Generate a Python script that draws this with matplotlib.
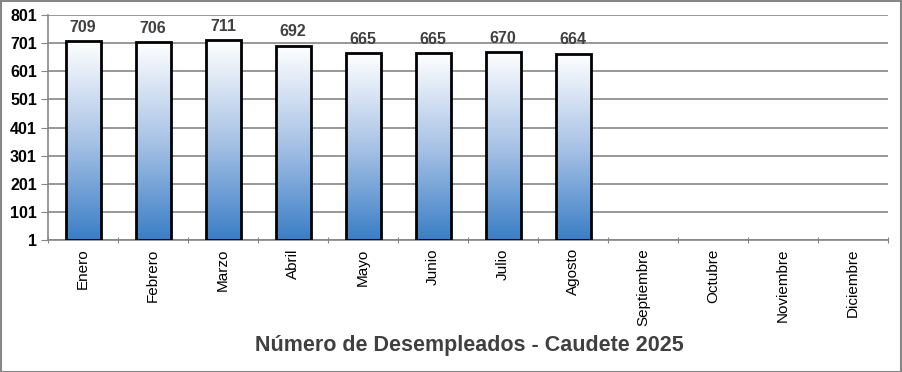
import matplotlib
matplotlib.use("Agg")
import matplotlib.pyplot as plt
import numpy as np
from matplotlib.colors import LinearSegmentedColormap
from matplotlib.patches import Rectangle

meses = ["Enero", "Febrero", "Marzo", "Abril", "Mayo", "Junio", "Julio",
         "Agosto", "Septiembre", "Octubre", "Noviembre", "Diciembre"]
valores = [709, 706, 711, 692, 665, 665, 670, 664]
yticks = [1, 101, 201, 301, 401, 501, 601, 701, 801]
titulo = "Número de Desempleados - Caudete 2025"

plt.rcParams['font.family'] = ['Liberation Sans', 'DejaVu Sans']

fig = plt.figure(figsize=(9.02, 3.72), dpi=100)
W, H = 902, 372
ax = fig.add_axes([48 / W, 1 - 240 / H, (888 - 48) / W, (240 - 15) / H])

ax.set_xlim(-0.5, len(meses) - 0.5)
ax.set_ylim(1, 801)

cmap = LinearSegmentedColormap.from_list("g", ["#3A7EC6", "#A9C3E6", "#FFFFFF"])
grad = np.linspace(0, 1, 256).reshape(-1, 1)

bars = ax.bar(range(len(valores)), [v - 1 for v in valores], bottom=1, width=0.5,
              facecolor="none", edgecolor="black", linewidth=2, zorder=3)
for i, (b, v) in enumerate(zip(bars, valores)):
    x0 = b.get_x()
    im = ax.imshow(grad, cmap=cmap, aspect="auto", origin="lower",
                   extent=[x0, x0 + b.get_width(), 1, v], zorder=2)
    clip = Rectangle((x0, 1), b.get_width(), v - 1, transform=ax.transData)
    im.set_clip_path(clip)
    ax.text(i, v + 22, str(v), ha="center", va="bottom", fontsize=11.5,
            fontweight="bold", color="#404040", zorder=4)

ax.set_xlim(-0.5, len(meses) - 0.5)
ax.set_ylim(1, 801)

ax.set_yticks(yticks)
ax.set_yticklabels([str(t) for t in yticks], fontsize=11.5, fontweight="bold")
ax.yaxis.grid(True, color="#868686", linewidth=1.2, zorder=0)
ax.set_axisbelow(True)

ax.set_xticks(np.arange(-0.5, len(meses), 1), minor=False)
ax.set_xticklabels([])
ax.set_xticks(range(len(meses)), minor=True)
ax.set_xticklabels(meses, minor=True, rotation=90, fontsize=11, va="top")
ax.tick_params(axis="x", which="major", length=5, color="#868686", direction="inout")
ax.tick_params(axis="x", which="minor", length=0, pad=6)
ax.tick_params(axis="y", length=5, color="#868686", direction="out", pad=3)

for s in ["top", "right"]:
    ax.spines[s].set_visible(False)
for s in ["left", "bottom"]:
    ax.spines[s].set_color("#868686")
    ax.spines[s].set_linewidth(1.2)

fig.text(469 / W, 1 - 345 / H, titulo, ha="center", va="center",
         fontsize=15.5, fontweight="bold", color="#404040")

fig.patches.append(Rectangle((0.5 / W, 0.5 / H), 1 - 1.5 / W, 1 - 1.5 / H,
                             transform=fig.transFigure, fill=False,
                             edgecolor="#868686", linewidth=1.5))

fig.savefig("out.png", dpi=100, facecolor="white")
